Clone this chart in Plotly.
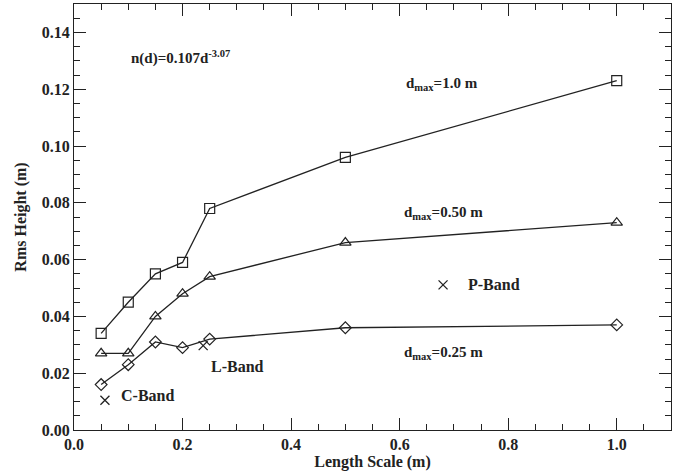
import plotly.graph_objects as go

length_scale = [0.05, 0.10, 0.15, 0.20, 0.25, 0.50, 1.00]
rms_dmax_100 = [0.034, 0.045, 0.055, 0.059, 0.078, 0.096, 0.123]
rms_dmax_050 = [0.027, 0.027, 0.040, 0.048, 0.054, 0.066, 0.073]
rms_dmax_025 = [0.016, 0.023, 0.031, 0.029, 0.032, 0.036, 0.037]

band_names = ["C-Band", "L-Band", "P-Band"]
band_x = [0.057, 0.238, 0.680]
band_y = [0.0105, 0.0297, 0.0511]

FONT = "Liberation Serif"
INK = "#222222"

fig = go.Figure()

series = [
    (rms_dmax_100, "square-open", 10, "d_max=1.0 m"),
    (rms_dmax_050, "triangle-up-open", 10, "d_max=0.50 m"),
    (rms_dmax_025, "diamond-open", 9, "d_max=0.25 m"),
]
for ys, sym, sz, name in series:
    fig.add_trace(go.Scatter(
        x=length_scale, y=ys, mode="lines+markers", name=name,
        line=dict(color=INK, width=1.3),
        marker=dict(symbol=sym, size=sz, color=INK, line=dict(width=1.2, color=INK)),
    ))

fig.add_trace(go.Scatter(
    x=band_x, y=band_y, mode="markers", name="Bands",
    marker=dict(symbol="x-thin-open", size=9, color=INK, line=dict(width=1.3, color=INK)),
))

annots = [
    (0.196, 0.131, "n(d)=0.107d<sup>-3.07</sup>", 15),
    (0.678, 0.1217, "d<sub>max</sub>=1.0 m", 15),
    (0.680, 0.0765, "d<sub>max</sub>=0.50 m", 15),
    (0.680, 0.0271, "d<sub>max</sub>=0.25 m", 15),
    (0.301, 0.0222, "L-Band", 16),
    (0.135, 0.0123, "C-Band", 16),
    (0.773, 0.0511, "P-Band", 16),
]
for x, y, t, s in annots:
    fig.add_annotation(x=x, y=y, text="<b>" + t + "</b>", showarrow=False,
                       font=dict(family=FONT, size=s, color=INK))

axis_common = dict(
    showline=True, linecolor=INK, linewidth=1.3, mirror="ticks",
    ticks="inside", ticklen=12, tickcolor=INK, tickwidth=1.2,
    showgrid=False, zeroline=False, automargin=False,
    tickfont=dict(family=FONT, size=16, color=INK),
)

fig.update_xaxes(
    range=[0, 1.1], tickvals=[0, 0.2, 0.4, 0.6, 0.8, 1.0],
    ticktext=["<b>0.0</b>", "<b>0.2</b>", "<b>0.4</b>", "<b>0.6</b>", "<b>0.8</b>", "<b>1.0</b>"],
    minor=dict(dtick=0.05, ticks="inside", ticklen=6, tickcolor=INK, tickwidth=1),
    title=dict(text="<b>Length Scale (m)</b>", font=dict(family=FONT, size=16, color=INK), standoff=0),
    **axis_common,
)
fig.update_yaxes(
    range=[0, 0.15], tickvals=[0, 0.02, 0.04, 0.06, 0.08, 0.10, 0.12, 0.14],
    ticktext=["<b>0.00</b>", "<b>0.02</b>", "<b>0.04</b>", "<b>0.06</b>", "<b>0.08</b>",
              "<b>0.10</b>", "<b>0.12</b>", "<b>0.14</b>"],
    minor=dict(dtick=0.005, ticks="inside", ticklen=6, tickcolor=INK, tickwidth=1),
    title=dict(text="<b>Rms Height (m)</b>", font=dict(family=FONT, size=16, color=INK), standoff=11),
    **axis_common,
)

fig.update_layout(
    width=681, height=473,
    margin=dict(l=74, r=10, t=4, b=43),
    paper_bgcolor="white", plot_bgcolor="white",
    showlegend=False,
)

fig.write_html("out.html", config={"displayModeBar": False},
               post_script="document.body.style.margin='0';")
